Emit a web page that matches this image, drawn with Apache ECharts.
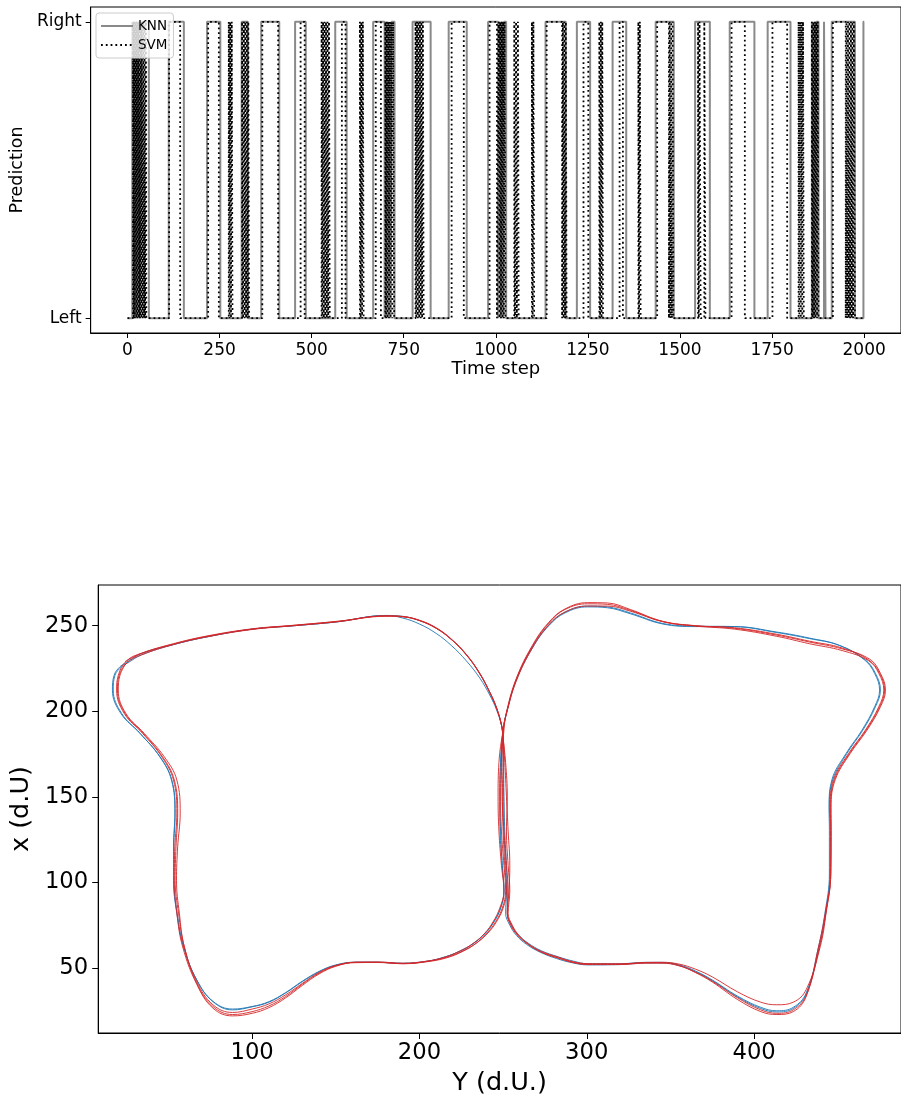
<!DOCTYPE html>
<html>
<head>
<meta charset="utf-8">
<script src="https://cdn.jsdelivr.net/npm/echarts@6/dist/echarts.min.js"></script>
<style>
html,body{margin:0;padding:0;background:#fff;}
#chart{width:901px;height:1101px;}
</style>
</head>
<body>
<div id="chart"></div>
<script>
// ---------------- DATA ----------------
// Top panel: time steps where each classifier predicts "Right" (1); otherwise "Left" (0)
const timeTicks = [0, 250, 500, 750, 1000, 1250, 1500, 1750, 2000];
const predTicks = [0, 1];
const predLabels = ['Left', 'Right'];
const seriesNames = ['KNN', 'SVM'];

const knnRight = [
  [13,15],[17,20],[23,26],[29,33],[37,58],
  [112,153],[216,252],[310,327],[363,412],[455,484],[564,595],
  [667,698],[701,706],[709,714],[717,725],[774,823],[872,921],
  [979,1006],[1010,1013],[1016,1019],[1022,1028],
  [1135,1190],[1220,1256],[1317,1354],[1434,1483],[1541,1581],
  [1635,1702],[1738,1800],[1858,1861],[1864,1867],[1870,1876],
  [1891,1895],[1912,1975],[1998,2000]
];
const svmRight = [
  [15,17],[18,20],[22,24],[25,27],[29,31],[32,34],[36,38],[39,41],[43,45],[46,48],[50,51],
  [113,143],[219,248],
  [275,277],[279,281],[283,285],
  [311,314],[316,318],[320,322],[324,326],[328,330],
  [366,409],[470,481],
  [527,529],[531,533],[535,537],[539,541],[543,545],[547,549],
  [582,592],
  [631,633],[635,637],[639,641],
  [674,688],[700,702],[704,706],[708,710],[712,714],[716,719],[721,724],
  [782,784],[786,788],[790,792],[794,796],[798,800],[802,804],
  [880,913],[983,1003],
  [1008,1010],[1012,1014],[1016,1018],[1020,1022],[1024,1026],
  [1050,1052],[1055,1057],[1060,1062],
  [1098,1100],[1102,1104],
  [1138,1180],[1182,1184],[1186,1188],[1190,1192],
  [1238,1251],
  [1281,1283],[1285,1287],[1289,1291],
  [1336,1345],
  [1387,1389],[1391,1393],
  [1438,1470],[1472,1474],[1476,1478],[1480,1482],
  [1549,1551],[1553,1556],[1566,1569],
  [1640,1676],[1751,1791],
  [1822,1824],[1826,1828],[1830,1832],[1834,1836],
  [1858,1860],[1862,1864],[1866,1868],[1870,1872],[1874,1876],
  [1915,1950],[1952,1954],[1956,1958],[1960,1962],[1964,1966],[1968,1970],[1972,1975]
];

// Bottom panel: trajectory laps, points are [Y (d.U.), x (d.U)]
const xTicks = [100, 200, 300, 400];
const yTicks = [50, 100, 150, 200, 250];

const blueLap1 = [[25,228.7],[34,233.8],[53,239],[73,243.5],[100,248],[125,250],[151,252.3],[180,256],[190,254.5],[200,251],[210,245.5],[219,238.5],[228,229.5],[236,219.5],[242,209.5],[246,201],[249,192],[250,185],[250.3,170],[250.5,150],[251,130],[252,110],[252.5,95],[252.5,82],[255,75],[259,69.5],[265,64.5],[273,60],[283,56.5],[292,54],[300.6,52.5],[320,52.5],[335,53.3],[345,53.3],[355,51.9],[365,48.2],[375,43],[390.2,33.5],[404,27],[413.6,25],[423.4,27],[431.2,35.5],[439,62.3],[442.8,81.8],[445.3,105],[445.5,130.5],[445,144],[447,160],[455.5,175.4],[465,189],[472.5,202.6],[475.5,212.4],[472.5,222.2],[466.5,230],[451,238.5],[433,242.8],[413.6,246.3],[388.3,249.5],[365,249.5],[345.5,251],[326,257],[312.3,260.5],[300.6,261],[287,257.5],[277.3,250],[267.5,237],[257.8,218],[252,198.8],[250,189],[248.5,170],[248,150],[248.5,130],[249.5,110],[250.5,95],[248.5,85],[244.5,77],[239.5,70.5],[232.5,64.5],[224.5,60],[215.5,56.5],[205,54],[190,52.8],[175,53.4],[162,53.4],[150,51.8],[140,48],[130,42.3],[120,35.6],[110,30.3],[100,27.5],[88.3,26],[76.6,30.5],[66.9,43],[59.1,62.3],[55.2,82],[53.2,101.3],[53.2,120.8],[54,140.5],[52,159.8],[45,173.4],[33,187.1],[22,198.8],[17,212.4],[18,221],[22,226]];
const blueLap2 = [[26,228.5],[34,233],[53,239],[73,243.5],[100,248],[125,250],[151,252.3],[180,256],[190,255.5],[200,253],[210,248.5],[219,242],[228,233],[236,222],[242,211],[246,202],[249,192],[249.8,185],[250,170],[250.3,150],[250.5,130],[251.5,110],[252,95],[251.5,82],[254,75],[258,69],[264,63.8],[272,59.3],[282,55.5],[291.5,53],[300.6,51.8],[320,52],[335,52.9],[345,52.9],[355,51.5],[365,47.8],[375,42.6],[390.2,33],[404,26.3],[413.6,24.3],[423.4,26.3],[431.2,35],[438.5,62.3],[442.3,81.8],[445,105],[445,130.5],[444.8,144],[446.5,160],[455,175.4],[464.5,189],[472,202.6],[475,212.4],[472,222.2],[466,230],[451,238.5],[433,242.5],[413.6,246],[388.3,249.5],[365,249.8],[345.5,251.3],[326,257.5],[312.3,261],[300.6,261.5],[287,258],[277.3,250.5],[267.5,237.5],[257.8,218],[252,199],[250,189],[248.5,170],[248,150],[248.2,130],[249.5,110],[250.5,95],[248.5,85],[244.5,77],[239.5,70.5],[232.5,64.5],[224.5,60],[215.5,56.5],[205,54],[190,52.6],[175,53.3],[162,53.3],[150,51.5],[140,47.7],[130,42],[120,35.4],[110,30],[100,27.3],[88.3,25.5],[76.6,30.3],[66.9,43],[59,62.3],[55,82],[53,101.3],[53,120.8],[53.8,140.5],[51.8,159.8],[44.8,173.4],[33,187.1],[21.5,198.8],[16.5,212.4],[17.5,221],[21,226],[25.5,228.8]];

const redLap1 = [[24,229],[33,233.5],[53,239.3],[73,243.8],[100,248],[125,250.2],[151,252.5],[180,255.5],[190,255.2],[200,253],[210,248.5],[219,242],[228,233],[236,222],[242,211],[246,202],[249,192],[250,185],[251,170],[252,150],[253,130],[254,110],[253.5,95],[252.5,82],[255,75],[259,69],[265,63.8],[273,59.2],[283,55.8],[292,53.3],[300.6,52.3],[320,52.3],[335,53.1],[345,53.1],[355,51.5],[365,47.3],[375,41.8],[390.2,31.5],[404,24.5],[413.6,22.8],[423.4,24.5],[431.2,33.5],[438.5,62.3],[442.5,81.8],[445.8,105],[446,130.5],[446,144],[448.5,160],[457.5,175.4],[467.5,189],[475.5,202.6],[478.5,212.4],[475.5,222.2],[469,230.5],[452.6,236.5],[433,240.5],[413.6,244.5],[388.3,248.5],[365,250],[345.5,252.5],[326,259.5],[312.3,263.3],[300.6,263.5],[287,259.8],[277.3,252],[267.5,238.5],[257.8,219],[252,199.5],[250.5,189],[249,170],[248.5,150],[249,130],[250.5,110],[251.5,95],[249.5,85],[245.5,77],[240.5,70.5],[233.5,64.2],[225.5,59.5],[216.5,56],[205,53.7],[190,52.5],[175,53.2],[162,53.1],[150,51.2],[140,47],[130,40.5],[120,33.3],[110,27.8],[100,24.5],[88.3,22.8],[76.6,27.5],[66.9,41],[59.5,62.3],[56,82],[54,101.3],[54.5,120.8],[55.5,140.5],[53.5,159.8],[46.5,173.4],[35,187.1],[24,198.8],[19.5,212.4],[20.5,221]];
const redLap2 = [[25.5,228.5],[34,233],[53,239],[73,243.5],[100,247.8],[125,250],[151,252.3],[180,255.8],[190,255.4],[200,253.2],[210,248.8],[219,242.3],[228,233.3],[236,222.3],[242,211.3],[246,202.3],[249,192.3],[249.8,185],[250,170],[249.5,150],[250.5,130],[252,110],[253,95],[252.5,82],[254.5,75],[258.5,69.3],[264.5,64.3],[272.5,59.8],[283,56.3],[292,53.6],[300.6,52.5],[320,52.4],[335,53.2],[345,53.3],[355,52.3],[365,49.3],[375,44.8],[390.2,36],[404,30],[413.6,28.5],[423.4,30],[431.2,37.5],[439.5,62.3],[443,81.8],[445.8,105],[445.8,130.5],[445.5,144],[447.5,160],[456.5,175.4],[466.5,189],[474.5,202.6],[477.5,212.4],[474.5,222.2],[468.5,229.5],[452.6,235.5],[433,239.5],[413.6,243.8],[388.3,248],[365,249.8],[345.5,252.3],[326,258.5],[312.3,261.5],[300.6,261.5],[287,258],[277.3,250.5],[267.5,237],[257.8,217.5],[252,198.5],[250,189],[247.5,170],[247,150],[247.5,130],[249,110],[250.5,95],[248,85],[244,77],[239,70.3],[232,64.3],[224,59.8],[215,56.3],[204.5,54],[190,52.8],[175,53.5],[162,53.4],[150,51],[140,46.5],[130,39.8],[120,32.5],[110,26.8],[100,23.5],[88.3,22],[76.6,26.5],[66.9,40.5],[58.5,62.3],[55,82],[53.5,101.3],[53.8,120.8],[55,140.5],[53,159.8],[46,173.4],[34.5,187.1],[23.5,198.8],[19,212.4],[20,221]];
const redLap3 = [[25,229.5],[34,234],[53,239.5],[73,244],[100,248.2],[125,250.3],[151,252.6],[180,255.7],[190,255.3],[200,253.1],[210,248.6],[219,242.1],[228,233.1],[236,222.1],[242,211.1],[246,202.1],[249,192.1],[249.9,185],[251.5,170],[252.5,150],[252,130],[253,110],[254,95],[253,82],[255.5,75],[259.5,69],[265.5,63.6],[273.5,59],[284,55.5],[292.5,53],[300.6,52],[320,52],[335,52.8],[345,52.8],[355,51.3],[365,47.5],[375,42.3],[390.2,32.5],[404,25.5],[413.6,23.5],[423.4,25.5],[431.2,34],[439,62.3],[442.8,81.8],[445.8,105],[446,130.5],[445.8,144],[448,160],[457,175.4],[467,189],[475,202.6],[478,212.4],[475,222.2],[468.5,230],[452.6,237],[433,241],[413.6,245],[388.3,248.8],[365,250],[345.5,252.5],[326,259],[312.3,262.5],[300.6,262.8],[287,259.5],[277.3,251.5],[267.5,238],[257.8,218.5],[252,199],[250,189],[249,170],[249.5,150],[250,130],[251,110],[252,95],[250,85],[246,77],[241,70.5],[234,64.5],[226,60],[217,56.5],[205.5,54],[190,52.5],[175,53.3],[162,53.3],[150,51.5],[140,47.4],[130,41],[120,34.3],[110,29],[100,26],[88.3,24],[76.6,28.5],[66.9,42],[59.5,62.3],[56.5,82],[54.8,101.3],[55.5,120.8],[57,140.5],[55,159.8],[47.5,173.4],[35.5,187.1],[24.5,198.8],[20,212.4],[21,221],[24.5,228]];

// ---------------- BUILD ----------------
function toSteps(intervals) {
  const pts = [[0, 0]];
  intervals.forEach(function (iv) {
    pts.push([iv[0], 0], [iv[0], 1], [iv[1], 1]);
    if (iv[1] < 2000) pts.push([iv[1], 0]);
  });
  const last = intervals[intervals.length - 1];
  if (last[1] < 2000) pts.push([2000, 0]);
  return pts;
}

const FONT = 'DejaVu Sans';
const chart = echarts.init(document.getElementById('chart'), null, {renderer: 'canvas'});

const option = {
  backgroundColor: '#ffffff',
  animation: false,
  textStyle: {fontFamily: FONT, color: '#000'},
  grid: [
    {left: 89, top: 7, width: 821, height: 326, show: true, borderColor: '#000', borderWidth: 1, backgroundColor: 'transparent'},
    {left: 89, top: 585, width: 821, height: 448, show: true, borderColor: '#000', borderWidth: 1, backgroundColor: 'transparent'}
  ],
  legend: {
    data: seriesNames,
    orient: 'vertical',
    left: 96, top: 13,
    padding: [6, 6, 6, 4],
    itemGap: 5,
    itemWidth: 32,
    itemHeight: 12,
    backgroundColor: 'rgba(255,255,255,0.8)',
    borderColor: '#cccccc',
    borderWidth: 1,
    borderRadius: 3,
    itemStyle: {opacity: 0},
    textStyle: {fontFamily: FONT, fontSize: 13.5, color: '#000'}
  },
  xAxis: [
    {
      gridIndex: 0, type: 'value', min: -100, max: 2100,
      name: 'Time step', nameLocation: 'middle', nameGap: 27,
      nameTextStyle: {fontFamily: FONT, fontSize: 18, color: '#000'},
      axisLine: {show: true, onZero: false, lineStyle: {color: '#000', width: 1}},
      axisTick: {show: true, length: 5, customValues: timeTicks, lineStyle: {color: '#000', width: 1}},
      axisLabel: {customValues: timeTicks, fontFamily: FONT, fontSize: 17, color: '#000', margin: 9,
        formatter: function (v) { return String(v); }},
      splitLine: {show: false}
    },
    {
      gridIndex: 1, type: 'value', min: 8.0, max: 487.8,
      name: 'Y (d.U.)', nameLocation: 'middle', nameGap: 37,
      nameTextStyle: {fontFamily: FONT, fontSize: 25.5, color: '#000'},
      axisLine: {show: true, onZero: false, lineStyle: {color: '#000', width: 1}},
      axisTick: {show: true, length: 6, customValues: xTicks, lineStyle: {color: '#000', width: 1}},
      axisLabel: {customValues: xTicks, fontFamily: FONT, fontSize: 22.7, color: '#000', margin: 9,
        formatter: function (v) { return String(v); }},
      splitLine: {show: false}
    }
  ],
  yAxis: [
    {
      gridIndex: 0, type: 'value', min: -0.05, max: 1.05,
      name: 'Prediction', nameLocation: 'middle', nameGap: 60, nameRotate: 90,
      nameTextStyle: {fontFamily: FONT, fontSize: 17.5, color: '#000'},
      axisLine: {show: true, onZero: false, lineStyle: {color: '#000', width: 1}},
      axisTick: {show: true, length: 5, customValues: predTicks, lineStyle: {color: '#000', width: 1}},
      axisLabel: {customValues: predTicks, fontFamily: FONT, fontSize: 17, color: '#000', margin: 9,
        formatter: function (v) { return predLabels[Math.round(v)]; }},
      splitLine: {show: false}
    },
    {
      gridIndex: 1, type: 'value', min: 12.0, max: 273.8,
      name: 'x (d.U)', nameLocation: 'middle', nameGap: 60, nameRotate: 90,
      nameTextStyle: {fontFamily: FONT, fontSize: 25.5, color: '#000'},
      axisLine: {show: true, onZero: false, lineStyle: {color: '#000', width: 1}},
      axisTick: {show: true, length: 6, customValues: yTicks, lineStyle: {color: '#000', width: 1}},
      axisLabel: {customValues: yTicks, fontFamily: FONT, fontSize: 22.7, color: '#000', margin: 10,
        formatter: function (v) { return String(v); }},
      splitLine: {show: false}
    }
  ],
  series: [
    {
      name: seriesNames[0], type: 'line', xAxisIndex: 0, yAxisIndex: 0,
      data: toSteps(knnRight), symbol: 'none', showSymbol: false,
      lineStyle: {color: '#8a8a8a', width: 2}, itemStyle: {color: '#8a8a8a'}, z: 2
    },
    {
      name: seriesNames[1], type: 'line', xAxisIndex: 0, yAxisIndex: 0,
      data: toSteps(svmRight), symbol: 'none', showSymbol: false,
      lineStyle: {color: '#000', width: 1.8, type: [1.8, 3]}, itemStyle: {color: '#000'}, z: 3
    },
    {
      name: 'blue', type: 'line', xAxisIndex: 1, yAxisIndex: 1,
      data: blueLap1.concat(blueLap2), symbol: 'none', showSymbol: false, smooth: 0.4,
      lineStyle: {color: '#1f77b4', width: 0.9}, z: 2
    },
    {
      name: 'red', type: 'line', xAxisIndex: 1, yAxisIndex: 1,
      data: redLap1.concat(redLap2, redLap3), symbol: 'none', showSymbol: false, smooth: 0.4,
      lineStyle: {color: '#d62728', width: 0.9}, z: 3
    }
  ],
  graphic: [
    {type: 'rect', left: 0, top: 379, shape: {width: 901, height: 200}, style: {fill: '#fff'}, z: 100}
  ]
};
chart.setOption(option);
</script>
</body>
</html>
